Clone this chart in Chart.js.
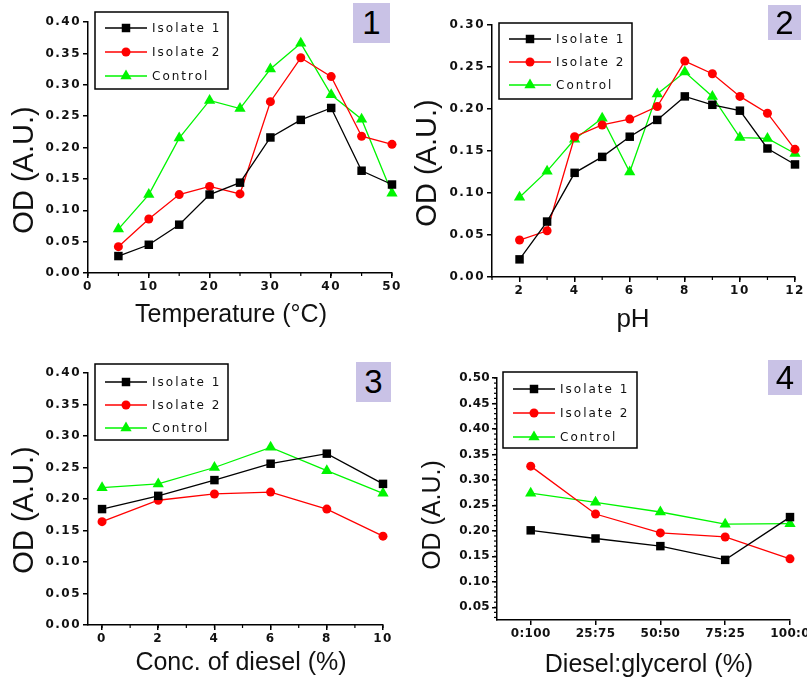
<!DOCTYPE html>
<html lang="en">
<head>
<meta charset="UTF-8">
<title>OD of isolates</title>
<script src="https://cdn.jsdelivr.net/npm/chart.js"></script>
<style>
  body { margin: 0; background: #fff; }
  #wrap { position: relative; width: 807px; height: 684px; }
  canvas { position: absolute; }
  .num { position: absolute; background: #c9c2e6; color: #000; text-align: center;
         font-family: "Liberation Sans", Arial, sans-serif; font-size: 33px; }
</style>
</head>
<body>
<div id="wrap">
  <canvas id="p1" width="400" height="340" style="left:0;top:0"></canvas>
  <canvas id="p2" width="407" height="340" style="left:400px;top:0"></canvas>
  <canvas id="p3" width="400" height="344" style="left:0;top:340px"></canvas>
  <canvas id="p4" width="407" height="344" style="left:400px;top:340px"></canvas>
  <div class="num" style="left:353px;top:3px;width:37px;height:40px;line-height:40px">1</div>
  <div class="num" style="left:768px;top:5px;width:33px;height:35px;line-height:35px">2</div>
  <div class="num" style="left:356px;top:362px;width:35px;height:40px;line-height:40px">3</div>
  <div class="num" style="left:768px;top:360px;width:34px;height:35px;line-height:35px">4</div>
</div>

<script>
  // data
  const seriesNames = ['Isolate 1', 'Isolate 2', 'Control'];

  const tempC = [5, 10, 15, 20, 25, 30, 35, 40, 45, 50];
  const tempIso1 = [0.027, 0.045, 0.077, 0.125, 0.144, 0.216, 0.244, 0.263, 0.163, 0.141];
  const tempIso2 = [0.042, 0.086, 0.125, 0.138, 0.126, 0.273, 0.343, 0.313, 0.218, 0.205];
  const tempCtrl = [0.070, 0.125, 0.215, 0.275, 0.262, 0.325, 0.366, 0.284, 0.245, 0.127];

  const pH = [2, 3, 4, 5, 6, 7, 8, 9, 10, 11, 12];
  const phIso1 = [0.021, 0.066, 0.124, 0.143, 0.167, 0.187, 0.215, 0.205, 0.198, 0.153, 0.134];
  const phIso2 = [0.044, 0.055, 0.167, 0.181, 0.188, 0.203, 0.257, 0.242, 0.215, 0.195, 0.152];
  const phCtrl = [0.095, 0.126, 0.164, 0.189, 0.125, 0.218, 0.244, 0.215, 0.166, 0.165, 0.147];

  const diesel = [0, 2, 4, 6, 8, 10];
  const dieselIso1 = [0.184, 0.205, 0.230, 0.256, 0.272, 0.224];
  const dieselIso2 = [0.164, 0.198, 0.208, 0.211, 0.184, 0.141];
  const dieselCtrl = [0.218, 0.224, 0.250, 0.282, 0.245, 0.209];

  const blendLabels = ['0:100', '25:75', '50:50', '75:25', '100:0'];
  const blendIso1 = [0.201, 0.185, 0.170, 0.143, 0.227];
  const blendIso2 = [0.327, 0.233, 0.196, 0.188, 0.145];
  const blendCtrl = [0.274, 0.256, 0.237, 0.213, 0.214];

  // styles
  const colors = ['#000000', '#ff0000', '#00f500'];
  const markers = ['rect', 'circle', 'triangle'];
  const markerSize = [6, 4.5, 6.5];
  const tickFont = { family: '"DejaVu Sans", sans-serif', size: 12, weight: 'bold' };
  const titleFamily = '"Liberation Sans", Arial, sans-serif';

  function makeDatasets(xs, lists) {
    return lists.map((ys, i) => ({
      label: seriesNames[i],
      data: ys.map((y, j) => ({ x: xs[j], y: y })),
      borderColor: colors[i],
      backgroundColor: colors[i],
      borderWidth: 1.3,
      pointStyle: markers[i],
      pointRadius: markerSize[i],
      pointBorderWidth: 0,
      tension: 0,
      clip: false
    }));
  }

  // wider spaced tick labels, like the source figure
  const spacing = {
    id: 'spacing',
    beforeDraw(chart, args, o) { chart.ctx.letterSpacing = (o.px || 0) + 'px'; },
    afterDraw(chart) { chart.ctx.letterSpacing = '0px'; }
  };

  // legend drawn as a bordered box inside the plot
  const boxLegend = {
    id: 'boxLegend',
    afterDraw(chart, args, o) {
      const ctx = chart.ctx;
      ctx.save();
      ctx.fillStyle = '#fff';
      ctx.fillRect(o.x, o.y, o.w, o.h);
      ctx.strokeStyle = '#000';
      ctx.lineWidth = 1.5;
      ctx.strokeRect(o.x, o.y, o.w, o.h);
      chart.data.datasets.forEach((ds, i) => {
        const cy = o.y + o.rowTop + i * o.gap;
        ctx.strokeStyle = ds.borderColor;
        ctx.lineWidth = 1.5;
        ctx.beginPath();
        ctx.moveTo(o.x + 10, cy);
        ctx.lineTo(o.x + 52, cy);
        ctx.stroke();
        ctx.fillStyle = ds.backgroundColor;
        Chart.helpers.drawPoint(ctx, { pointStyle: ds.pointStyle, radius: ds.pointRadius, rotation: 0, borderWidth: 0 }, o.x + 31, cy);
        ctx.fillStyle = '#111';
        ctx.font = '12px "DejaVu Sans", sans-serif';
        ctx.letterSpacing = '2px';
        ctx.textBaseline = 'middle';
        ctx.textAlign = 'left';
        ctx.fillText(ds.label, o.x + 57, cy + 1);
      });
      ctx.restore();
    }
  };

  // axis titles placed where the source has them
  const axisTitles = {
    id: 'axisTitles',
    afterDraw(chart, args, o) {
      const ctx = chart.ctx;
      ctx.save();
      ctx.letterSpacing = '0px';
      ctx.fillStyle = '#111';
      ctx.textAlign = 'center';
      ctx.textBaseline = 'middle';
      ctx.font = o.x.size + 'px ' + titleFamily;
      ctx.fillText(o.x.text, o.x.cx, o.x.cy);
      ctx.translate(o.y.cx, o.y.cy);
      ctx.rotate(-Math.PI / 2);
      ctx.font = o.y.size + 'px ' + titleFamily;
      ctx.fillText(o.y.text, 0, 0);
      ctx.restore();
    }
  };

  // short unlabeled ticks between the major ones
  const minorTicks = {
    id: 'minorTicks',
    afterDraw(chart, args, o) {
      const ctx = chart.ctx;
      ctx.save();
      ctx.strokeStyle = '#000';
      ctx.lineWidth = 1.2;
      ['x', 'y'].forEach(k => {
        const step = o[k];
        if (!step) return;
        const s = chart.scales[k];
        for (let v = Math.ceil(s.min / step - 1e-6) * step; v <= s.max + 1e-9; v += step) {
          const p = s.getPixelForValue(v);
          ctx.beginPath();
          if (k === 'x') { ctx.moveTo(p, s.top); ctx.lineTo(p, s.top + 3); }
          else { ctx.moveTo(s.right, p); ctx.lineTo(s.right - 3, p); }
          ctx.stroke();
        }
      });
      ctx.restore();
    }
  };

  function axisX(o) {
    return {
      type: 'linear', min: o.min, max: o.max,
      ticks: { stepSize: o.step, includeBounds: false, autoSkip: false, maxRotation: 0,
               color: '#111', font: tickFont, padding: 2, callback: o.fmt || (v => v) },
      grid: { drawOnChartArea: false, drawTicks: true, tickLength: 5, color: '#000', lineWidth: 1.5 },
      border: { display: true, color: '#000', width: 1.5 },
      afterFit(s) { s.height = o.size; s.paddingLeft = 0; s.paddingRight = 0; }
    };
  }

  function axisY(o) {
    return {
      type: 'linear', min: o.min, max: o.max,
      ticks: { stepSize: 0.05, includeBounds: false, autoSkip: false,
               color: '#111', font: tickFont, padding: 2, callback: v => v.toFixed(2) },
      grid: { drawOnChartArea: false, drawTicks: true, tickLength: 5, color: '#000', lineWidth: 1.5 },
      border: { display: true, color: '#000', width: 1.5 },
      afterFit(s) { s.width = o.size; s.paddingTop = 0; s.paddingBottom = 0; }
    };
  }

  function makePanel(id, datasets, x, y, pad, legend, minor, titles, letterPx) {
    new Chart(document.getElementById(id), {
      type: 'line',
      data: { datasets: datasets },
      options: {
        responsive: false,
        animation: false,
        layout: { padding: pad },
        scales: { x: axisX(x), y: axisY(y) },
        plugins: {
          legend: { display: false },
          tooltip: { enabled: false },
          spacing: { px: letterPx },
          boxLegend: legend,
          minorTicks: minor,
          axisTitles: titles
        }
      },
      plugins: [spacing, boxLegend, minorTicks, axisTitles]
    });
  }

  makePanel('p1', makeDatasets(tempC, [tempIso1, tempIso2, tempCtrl]),
    { min: 0, max: 50, step: 10, size: 67 },
    { min: 0, max: 0.40, size: 88 },
    { top: 22, right: 8, left: 0, bottom: 0 },
    { x: 95, y: 12, w: 133, h: 77, rowTop: 16, gap: 24 },
    { x: 5 },
    { x: { text: 'Temperature (\u00B0C)', cx: 231, cy: 315, size: 25 },
      y: { text: 'OD (A.U.)', cx: 25, cy: 170, size: 29 } }, 1.5);

  makePanel('p2', makeDatasets(pH, [phIso1, phIso2, phCtrl]),
    { min: 1, max: 12, step: 2, size: 63 },
    { min: 0, max: 0.30, size: 92 },
    { top: 25, right: 12, left: 0, bottom: 0 },
    { x: 99, y: 23, w: 133, h: 76, rowTop: 16, gap: 23 },
    { x: 1 },
    { x: { text: 'pH', cx: 233, cy: 320, size: 26 },
      y: { text: 'OD (A.U.)', cx: 28, cy: 163, size: 29 } }, 1.5);

  makePanel('p3', makeDatasets(diesel, [dieselIso1, dieselIso2, dieselCtrl]),
    { min: -0.5, max: 10, step: 2, size: 59 },
    { min: 0, max: 0.40, size: 88 },
    { top: 33, right: 17, left: 0, bottom: 0 },
    { x: 95, y: 24, w: 133, h: 76, rowTop: 18, gap: 23 },
    { x: 1 },
    { x: { text: 'Conc. of diesel (%)', cx: 241, cy: 323, size: 25 },
      y: { text: 'OD (A.U.)', cx: 25, cy: 170, size: 29 } }, 1.5);

  makePanel('p4', makeDatasets([0, 1, 2, 3, 4], [blendIso1, blendIso2, blendCtrl]),
    { min: -0.52, max: 4, step: 1, size: 64, fmt: v => blendLabels[v] },
    { min: 0.025, max: 0.50, size: 97 },
    { top: 38, right: 17, left: 0, bottom: 0 },
    { x: 103, y: 32, w: 134, h: 76, rowTop: 17, gap: 24 },
    { y: 0.01 },
    { x: { text: 'Diesel:glycerol (%)', cx: 249, cy: 325, size: 25 },
      y: { text: 'OD (A.U.)', cx: 33, cy: 175, size: 25 } }, 0.3);
</script>
</body>
</html>
